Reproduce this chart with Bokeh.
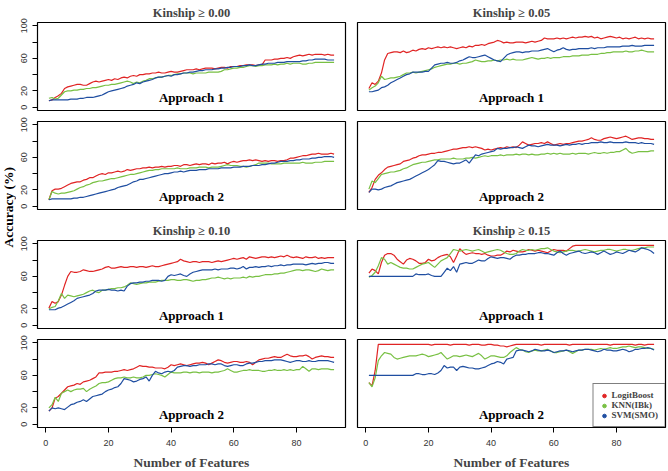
from math import pi
from bokeh.plotting import figure
from bokeh.layouts import row, column
from bokeh.models import Range1d, FixedTicker, Label, Legend, LegendItem, ColumnDataSource
from bokeh.embed import file_html
from bokeh.resources import INLINE

features = list(range(1, 93))
x_ticks = [0, 20, 40, 60, 80]
y_ticks = [0, 20, 40, 60, 80, 100]
y_tick_labels = {0: "0", 20: "20", 40: "", 60: "60", 80: "", 100: "100"}
titles = ["Kinship \u2265 0.00", "Kinship \u2265 0.05", "Kinship \u2265 0.10", "Kinship \u2265 0.15"]
approaches = ["Approach 1", "Approach 2"]
classifiers = ["LogitBoost", "KNN(IBk)", "SVM(SMO)"]

# Kinship >= 0.00
lb_00_a1 = [8, 9, 12, 14, 17, 23, 25, 26, 27, 28, 28, 27, 27, 29, 31, 32, 31, 32, 33, 34,
            33, 35, 34, 36, 37, 36, 38, 39, 38, 40, 40, 41, 41, 42, 42, 43, 42, 42, 43, 44,
            43, 43, 44, 45, 46, 46, 46, 47, 46, 47, 48, 48, 48, 47, 48, 49, 49, 48, 50, 50,
            50, 51, 51, 52, 52, 52, 51, 52, 52, 58, 58, 58, 59, 59, 60, 60, 61, 60, 62, 63,
            64, 63, 64, 65, 64, 65, 65, 65, 64, 65, 64, 64]
knn_00_a1 = [11, 12, 10, 11, 15, 19, 20, 20, 21, 21, 22, 22, 23, 23, 24, 24, 25, 26, 27, 27,
             28, 28, 29, 30, 31, 32, 31, 29, 31, 30, 32, 33, 35, 35, 36, 37, 37, 38, 39, 39,
             40, 41, 41, 42, 42, 42, 41, 42, 42, 42, 42, 43, 43, 43, 43, 44, 46, 46, 47, 48,
             48, 49, 49, 50, 51, 51, 50, 51, 51, 52, 52, 52, 53, 52, 53, 53, 54, 53, 54, 54,
             54, 53, 53, 54, 54, 55, 55, 55, 55, 55, 55, 55]
svm_00_a1 = [8, 9, 9, 9, 9, 9, 9, 10, 10, 10, 11, 11, 12, 12, 12, 13, 14, 15, 17, 19,
             20, 21, 22, 23, 24, 26, 27, 28, 30, 29, 31, 32, 33, 34, 36, 37, 37, 38, 39, 38,
             40, 40, 41, 42, 42, 43, 43, 44, 45, 45, 46, 46, 46, 47, 47, 48, 48, 49, 49, 50,
             50, 50, 51, 51, 52, 51, 51, 52, 53, 53, 54, 54, 54, 55, 55, 55, 56, 56, 56, 56,
             56, 57, 57, 58, 58, 59, 59, 59, 59, 58, 58, 58]
lb_00_a2 = [8, 19, 21, 21, 22, 24, 26, 28, 29, 30, 30, 32, 33, 35, 35, 37, 39, 40, 39, 41,
            41, 42, 43, 42, 43, 45, 44, 45, 46, 46, 47, 47, 48, 47, 48, 48, 49, 48, 49, 49,
            50, 50, 49, 51, 51, 50, 51, 52, 51, 52, 52, 51, 53, 52, 53, 53, 54, 52, 54, 55,
            54, 55, 56, 56, 57, 56, 57, 56, 55, 56, 55, 56, 56, 55, 56, 56, 57, 59, 59, 60,
            61, 62, 62, 63, 64, 64, 65, 64, 64, 64, 65, 64]
knn_00_a2 = [8, 18, 16, 15, 16, 16, 17, 18, 19, 21, 23, 24, 26, 27, 29, 30, 31, 31, 32, 33,
             34, 34, 35, 36, 37, 38, 39, 39, 40, 41, 42, 43, 44, 44, 45, 45, 46, 46, 46, 46,
             46, 47, 46, 46, 46, 47, 47, 47, 48, 48, 48, 47, 48, 48, 48, 49, 50, 51, 50, 50,
             50, 49, 49, 48, 49, 50, 51, 53, 53, 53, 53, 52, 52, 52, 52, 53, 53, 53, 53, 53,
             53, 54, 53, 53, 53, 54, 54, 54, 55, 55, 55, 55]
svm_00_a2 = [8, 9, 9, 9, 9, 9, 9, 9, 10, 10, 11, 11, 12, 13, 14, 15, 16, 17, 18, 19,
             20, 21, 23, 24, 25, 26, 28, 30, 31, 33, 33, 34, 35, 36, 37, 38, 39, 40, 40, 41,
             42, 42, 43, 42, 43, 44, 44, 44, 45, 45, 45, 46, 46, 46, 46, 47, 47, 47, 47, 48,
             48, 48, 49, 49, 49, 50, 50, 50, 51, 51, 52, 53, 53, 54, 55, 55, 55, 56, 56, 57,
             57, 58, 58, 58, 59, 59, 60, 60, 61, 61, 61, 60]

# Kinship >= 0.05
lb_05_a1 = [23, 30, 28, 32, 42, 58, 66, 67, 68, 68, 67, 69, 67, 68, 70, 69, 71, 72, 71, 73,
            72, 73, 74, 73, 74, 73, 74, 73, 72, 73, 74, 73, 75, 74, 76, 76, 77, 76, 78, 79,
            80, 82, 81, 79, 80, 79, 79, 80, 80, 80, 79, 80, 81, 80, 81, 82, 85, 84, 84, 84,
            85, 84, 85, 84, 85, 86, 85, 86, 86, 87, 86, 87, 85, 86, 84, 85, 86, 87, 86, 85,
            86, 84, 85, 84, 85, 86, 84, 85, 84, 85, 84, 84]
knn_05_a1 = [21, 24, 26, 30, 38, 34, 35, 36, 36, 37, 38, 40, 42, 42, 43, 42, 43, 44, 45, 46,
             47, 49, 50, 51, 52, 53, 53, 54, 54, 53, 54, 54, 55, 56, 58, 57, 56, 56, 57, 57,
             58, 57, 58, 58, 59, 58, 59, 58, 58, 58, 59, 60, 61, 60, 59, 60, 60, 61, 60, 61,
             61, 61, 62, 62, 62, 63, 63, 63, 64, 64, 64, 65, 65, 65, 66, 66, 67, 67, 68, 68,
             68, 68, 69, 68, 68, 69, 69, 70, 69, 68, 68, 68]
svm_05_a1 = [19, 19, 20, 21, 24, 25, 27, 30, 32, 34, 36, 38, 40, 41, 43, 43, 43, 43, 44, 44,
             48, 52, 53, 54, 54, 55, 54, 54, 55, 57, 58, 60, 62, 61, 61, 62, 63, 64, 62, 60,
             58, 57, 56, 60, 64, 66, 67, 68, 68, 67, 68, 68, 69, 69, 69, 70, 71, 72, 70, 68,
             70, 71, 73, 71, 70, 71, 71, 72, 72, 72, 72, 73, 72, 73, 73, 73, 74, 74, 74, 74,
             74, 75, 75, 75, 76, 75, 75, 75, 76, 76, 76, 76]
lb_05_a2 = [17, 23, 33, 38, 41, 45, 48, 49, 50, 51, 52, 55, 56, 57, 59, 60, 62, 63, 63, 64,
            65, 65, 66, 66, 67, 68, 69, 70, 70, 71, 72, 72, 73, 72, 73, 72, 71, 69, 70, 69,
            70, 71, 72, 71, 73, 72, 73, 72, 75, 79, 77, 75, 76, 77, 77, 78, 77, 79, 77, 75,
            76, 77, 76, 77, 77, 78, 79, 80, 80, 81, 82, 84, 82, 81, 81, 83, 84, 85, 84, 83,
            84, 85, 86, 84, 82, 83, 84, 84, 83, 83, 82, 82]
knn_05_a2 = [21, 31, 29, 34, 39, 40, 41, 42, 42, 43, 44, 46, 47, 49, 51, 52, 53, 54, 54, 55,
             56, 57, 57, 58, 58, 58, 58, 59, 58, 58, 58, 59, 59, 60, 59, 60, 61, 62, 61, 62,
             62, 62, 63, 62, 63, 63, 63, 64, 63, 64, 64, 63, 64, 63, 63, 64, 64, 65, 64, 65,
             64, 65, 64, 64, 64, 65, 64, 65, 65, 65, 64, 65, 66, 65, 65, 66, 65, 66, 66, 67,
             67, 69, 71, 67, 65, 66, 67, 67, 67, 67, 68, 68]
svm_05_a2 = [17, 21, 21, 20, 21, 23, 24, 25, 27, 29, 30, 31, 32, 33, 35, 37, 39, 41, 43, 45,
             48, 51, 56, 55, 55, 54, 53, 52, 53, 53, 55, 57, 53, 58, 63, 62, 64, 65, 66, 67,
             68, 71, 70, 71, 71, 72, 72, 73, 72, 71, 73, 75, 74, 74, 73, 74, 75, 76, 75, 75,
             75, 74, 75, 76, 75, 76, 76, 77, 76, 77, 77, 78, 78, 78, 79, 78, 78, 79, 78, 78,
             78, 78, 79, 78, 78, 78, 77, 78, 77, 77, 77, 76]

# Kinship >= 0.10
lb_10_a1 = [21, 29, 27, 29, 37, 49, 60, 66, 65, 65, 66, 68, 67, 66, 66, 67, 68, 69, 71, 72,
            70, 70, 71, 72, 71, 71, 72, 72, 71, 72, 72, 71, 72, 73, 72, 72, 73, 74, 75, 76,
            77, 78, 81, 79, 78, 77, 78, 78, 77, 78, 78, 78, 77, 78, 79, 78, 79, 80, 81, 82,
            81, 82, 83, 81, 84, 83, 82, 83, 84, 84, 83, 84, 83, 84, 85, 84, 86, 84, 83, 84,
            83, 82, 84, 83, 83, 84, 82, 83, 82, 83, 83, 83]
knn_10_a1 = [20, 22, 23, 30, 39, 33, 37, 36, 35, 36, 37, 38, 40, 42, 43, 41, 40, 43, 43, 44,
             45, 45, 46, 46, 47, 49, 52, 51, 50, 51, 52, 52, 53, 53, 53, 54, 55, 55, 55, 56,
             56, 55, 55, 56, 56, 55, 54, 55, 55, 56, 56, 57, 58, 58, 59, 58, 57, 58, 57, 58,
             58, 58, 59, 58, 60, 59, 60, 60, 61, 62, 62, 62, 63, 63, 64, 64, 65, 66, 67, 68,
             68, 67, 68, 68, 67, 66, 67, 69, 68, 67, 68, 68]
svm_10_a1 = [19, 19, 19, 21, 22, 24, 26, 28, 30, 33, 34, 35, 36, 37, 39, 42, 43, 43, 43, 44,
             43, 43, 42, 43, 42, 48, 51, 52, 52, 53, 53, 54, 54, 55, 55, 55, 54, 55, 60, 62,
             61, 62, 63, 61, 60, 63, 65, 66, 67, 68, 68, 68, 68, 69, 68, 69, 69, 69, 70, 70,
             69, 70, 72, 69, 71, 71, 72, 71, 72, 72, 73, 72, 73, 73, 74, 73, 74, 74, 75, 75,
             75, 75, 74, 75, 76, 75, 76, 76, 77, 77, 76, 76]
lb_10_a2 = [16, 20, 32, 34, 38, 42, 46, 47, 48, 50, 49, 52, 53, 54, 56, 58, 63, 63, 64, 64,
            64, 65, 65, 66, 67, 66, 67, 68, 70, 72, 71, 71, 70, 70, 69, 69, 69, 68, 70, 73,
            72, 73, 74, 73, 72, 73, 74, 75, 75, 76, 75, 73, 75, 77, 79, 78, 76, 75, 76, 77,
            77, 76, 76, 77, 76, 73, 76, 79, 80, 81, 81, 82, 83, 82, 82, 84, 86, 84, 83, 83,
            84, 84, 85, 83, 80, 82, 83, 84, 83, 83, 82, 82]
knn_10_a2 = [20, 24, 33, 28, 38, 40, 42, 40, 42, 43, 43, 44, 40, 43, 45, 47, 50, 51, 51, 52,
             54, 56, 57, 57, 58, 57, 57, 58, 57, 57, 58, 60, 60, 61, 62, 61, 60, 58, 61, 64,
             63, 63, 63, 64, 64, 63, 64, 64, 63, 64, 64, 64, 63, 64, 64, 65, 66, 68, 66, 64,
             64, 65, 66, 66, 67, 66, 66, 66, 65, 65, 66, 66, 67, 66, 66, 67, 66, 67, 66, 67,
             67, 71, 68, 65, 68, 68, 67, 68, 68, 68, 67, 67]
svm_10_a2 = [16, 20, 19, 20, 19, 18, 21, 24, 25, 27, 28, 30, 28, 31, 34, 35, 36, 37, 40, 42,
             43, 45, 46, 50, 56, 55, 54, 52, 53, 55, 56, 58, 53, 60, 65, 63, 62, 64, 65, 64,
             66, 70, 71, 72, 72, 71, 72, 72, 73, 73, 73, 74, 74, 73, 74, 74, 72, 71, 72, 73,
             73, 72, 72, 74, 75, 75, 76, 77, 77, 78, 78, 78, 79, 79, 79, 78, 77, 76, 77, 78,
             78, 77, 77, 78, 77, 77, 78, 78, 78, 78, 77, 76]

# Kinship >= 0.15
lb_15_a1 = [64, 69, 67, 63, 77, 86, 88, 88, 86, 81, 78, 75, 80, 82, 81, 79, 76, 76, 77, 81,
            79, 80, 83, 85, 86, 87, 84, 77, 85, 94, 90, 87, 88, 89, 88, 88, 87, 88, 86, 85,
            85, 86, 86, 88, 91, 90, 92, 91, 90, 90, 91, 93, 92, 91, 92, 91, 90, 89, 91, 93,
            92, 92, 92, 91, 94, 97, 98, 98, 98, 98, 98, 98, 98, 98, 98, 98, 98, 98, 98, 98,
            98, 98, 98, 98, 98, 98, 98, 98, 98, 98, 98, 98]
knn_15_a1 = [59, 61, 65, 73, 83, 81, 75, 77, 75, 73, 71, 70, 70, 69, 69, 71, 73, 75, 76, 77,
             74, 71, 75, 79, 81, 83, 88, 93, 92, 91, 92, 93, 92, 91, 92, 93, 91, 89, 90, 91,
             92, 93, 92, 90, 88, 87, 87, 88, 91, 93, 92, 92, 93, 92, 93, 94, 94, 95, 93, 91,
             90, 89, 90, 91, 92, 92, 91, 91, 92, 93, 92, 91, 90, 91, 92, 92, 93, 93, 92, 91,
             92, 93, 93, 92, 92, 93, 94, 95, 95, 96, 96, 96]
svm_15_a1 = [60, 60, 60, 60, 60, 60, 60, 60, 60, 60, 60, 60, 60, 60, 60, 63, 62, 62, 62, 63,
             61, 60, 60, 60, 65, 70, 67, 72, 65, 75, 76, 77, 76, 76, 78, 80, 79, 79, 82, 84,
             83, 82, 83, 83, 82, 81, 84, 86, 86, 87, 87, 88, 88, 88, 89, 89, 88, 88, 87, 86,
             89, 91, 88, 86, 88, 89, 90, 91, 89, 88, 89, 90, 89, 87, 89, 91, 89, 87, 88, 90,
             89, 88, 90, 92, 91, 90, 92, 95, 94, 93, 91, 88]
lb_15_a2 = [51, 47, 66, 98, 98, 98, 98, 98, 98, 98, 98, 98, 98, 98, 98, 98, 98, 98, 98, 98,
            97, 98, 98, 98, 98, 98, 97, 98, 98, 98, 98, 98, 97, 98, 98, 98, 97, 97, 98, 98,
            97, 97, 96, 96, 95, 96, 97, 98, 98, 98, 98, 98, 98, 98, 98, 97, 98, 98, 98, 98,
            98, 98, 98, 98, 97, 98, 98, 98, 98, 98, 98, 98, 98, 98, 98, 98, 98, 97, 98, 98,
            98, 98, 98, 98, 98, 97, 98, 98, 97, 98, 98, 98]
knn_15_a2 = [51, 46, 57, 78, 84, 88, 87, 86, 82, 80, 81, 82, 83, 84, 84, 84, 85, 86, 85, 83,
             84, 85, 86, 88, 84, 80, 82, 84, 84, 83, 84, 85, 84, 83, 85, 87, 84, 80, 82, 84,
             84, 83, 82, 82, 84, 88, 91, 94, 92, 91, 89, 88, 90, 91, 90, 90, 91, 92, 90, 88,
             88, 89, 90, 91, 89, 87, 89, 91, 91, 92, 92, 92, 91, 92, 93, 92, 93, 94, 93, 93,
             94, 95, 95, 96, 95, 94, 95, 95, 94, 93, 93, 92]
svm_15_a2 = [60, 60, 60, 60, 60, 60, 60, 60, 60, 60, 60, 60, 60, 60, 60, 62, 62, 61, 61, 62,
             62, 61, 63, 66, 72, 69, 70, 70, 66, 70, 71, 70, 69, 69, 68, 68, 69, 70, 72, 74,
             75, 77, 76, 74, 80, 81, 82, 90, 91, 91, 90, 89, 90, 92, 91, 90, 90, 91, 90, 88,
             89, 90, 90, 91, 90, 89, 90, 91, 91, 92, 92, 91, 90, 89, 90, 92, 91, 91, 90, 90,
             91, 92, 91, 89, 90, 92, 92, 93, 93, 94, 93, 91]

colors = ["#e02424", "#78c043", "#1f4ea1"]
SERIF = "Liberation Serif"
SANS = "Liberation Sans"

panels = {
    (0, 0): (lb_00_a1, knn_00_a1, svm_00_a1),
    (1, 0): (lb_00_a2, knn_00_a2, svm_00_a2),
    (0, 1): (lb_05_a1, knn_05_a1, svm_05_a1),
    (1, 1): (lb_05_a2, knn_05_a2, svm_05_a2),
    (2, 0): (lb_10_a1, knn_10_a1, svm_10_a1),
    (3, 0): (lb_10_a2, knn_10_a2, svm_10_a2),
    (2, 1): (lb_15_a1, knn_15_a1, svm_15_a1),
    (3, 1): (lb_15_a2, knn_15_a2, svm_15_a2),
}

FW = 308
FH = 88
tops = [21, 6, 28, 6]
bottoms = [5, 3, 5, 44]


def make_panel(r, c):
    left_col = (c == 0)
    bottom_row = (r == 3)
    p = figure(
        frame_width=FW, frame_height=FH,
        x_range=Range1d(-2.64, 95.64), y_range=Range1d(-4, 104),
        output_backend="svg", toolbar_location=None,
        x_axis_location="below" if bottom_row else None,
        y_axis_location="left" if left_col else None,
        min_border_left=21 if left_col else 7,
        min_border_right=5 if left_col else 2,
        min_border_top=tops[r], min_border_bottom=bottoms[r],
    )
    p.xgrid.visible = False
    p.ygrid.visible = False
    p.outline_line_color = "black"
    p.outline_line_width = 1.2
    p.background_fill_color = "white"
    p.border_fill_color = "white"

    if r in (0, 2):
        p.title.text = titles[(r // 2) * 2 + c]
        p.title.align = "center"
        p.title.text_font = SERIF
        p.title.text_font_style = "bold"
        p.title.text_font_size = "12.5px"
        p.title.standoff = 6
        p.title.offset = 0

    if left_col:
        ax = p.yaxis[0]
        ax.ticker = FixedTicker(ticks=y_ticks)
        ax.major_label_overrides = y_tick_labels
        ax.bounds = (0, 100)
        ax.major_label_orientation = "vertical"
        ax.major_tick_out = 5
        ax.major_tick_in = 0
        ax.minor_tick_line_color = None
        ax.major_label_standoff = 5
        ax.major_label_text_font = SANS
        ax.major_label_text_font_size = "9px"
        ax.major_label_text_color = "#333333"
        ax.axis_line_color = "black"
    if bottom_row:
        ax = p.xaxis[0]
        ax.ticker = FixedTicker(ticks=x_ticks)
        ax.bounds = (0, 80)
        ax.major_tick_out = 5
        ax.major_tick_in = 0
        ax.minor_tick_line_color = None
        ax.major_label_standoff = 7
        ax.major_label_text_font = SANS
        ax.major_label_text_font_size = "9px"
        ax.major_label_text_color = "#333333"
        ax.axis_label = "Number of Features"
        ax.axis_label_text_font = SERIF
        ax.axis_label_text_font_style = "bold"
        ax.axis_label_text_font_size = "13.5px"
        ax.axis_label_standoff = 6

    for vals, col in zip(panels[(r, c)], colors):
        p.line(features, vals, line_color=col, line_width=1.2)

    p.add_layout(Label(x=46.5, y=12, text=approaches[r % 2],
                       text_align="center", text_baseline="middle",
                       text_font=SERIF, text_font_style="bold",
                       text_font_size="13px", text_color="black"))

    if r == 3 and c == 1:
        items = []
        for name, col in zip(classifiers, colors):
            # legend proxies: a single point placed outside the visible range
            src = ColumnDataSource(dict(x=[-50], y=[-50]))
            rr = p.scatter("x", "y", source=src, size=5.5, color=col)
            items.append(LegendItem(label=name, renderers=[rr]))
        leg = Legend(items=items, location="bottom_right")
        leg.margin = 0
        leg.padding = 6
        leg.spacing = 0
        leg.label_height = 9
        leg.glyph_height = 9
        leg.glyph_width = 9
        leg.label_standoff = 3
        leg.label_text_font = SERIF
        leg.label_text_font_style = "bold"
        leg.label_text_font_size = "9px"
        leg.label_text_baseline = "middle"
        leg.border_line_color = "black"
        leg.border_line_width = 1
        leg.background_fill_alpha = 1.0
        p.add_layout(leg)
    return p


rows = []
for r in range(4):
    rows.append(row(make_panel(r, 0), make_panel(r, 1)))
grid = column(*rows)

total_h = sum(tops) + sum(bottoms) + 4 * FH
lab = figure(width=16, height=total_h, x_range=Range1d(0, 1), y_range=Range1d(0, 1),
             output_backend="svg", toolbar_location=None,
             x_axis_location=None, y_axis_location=None,
             min_border=0)
lab.xgrid.visible = False
lab.ygrid.visible = False
lab.outline_line_color = None
lab.add_layout(Label(x=0.5, y=0.56, text="Accuracy (%)", angle=pi / 2,
                     text_align="center", text_baseline="middle",
                     text_font=SERIF, text_font_style="bold",
                     text_font_size="13.5px", text_color="black"))

layout = row(lab, grid)
open("out.html", "w").write(file_html(layout, INLINE))
